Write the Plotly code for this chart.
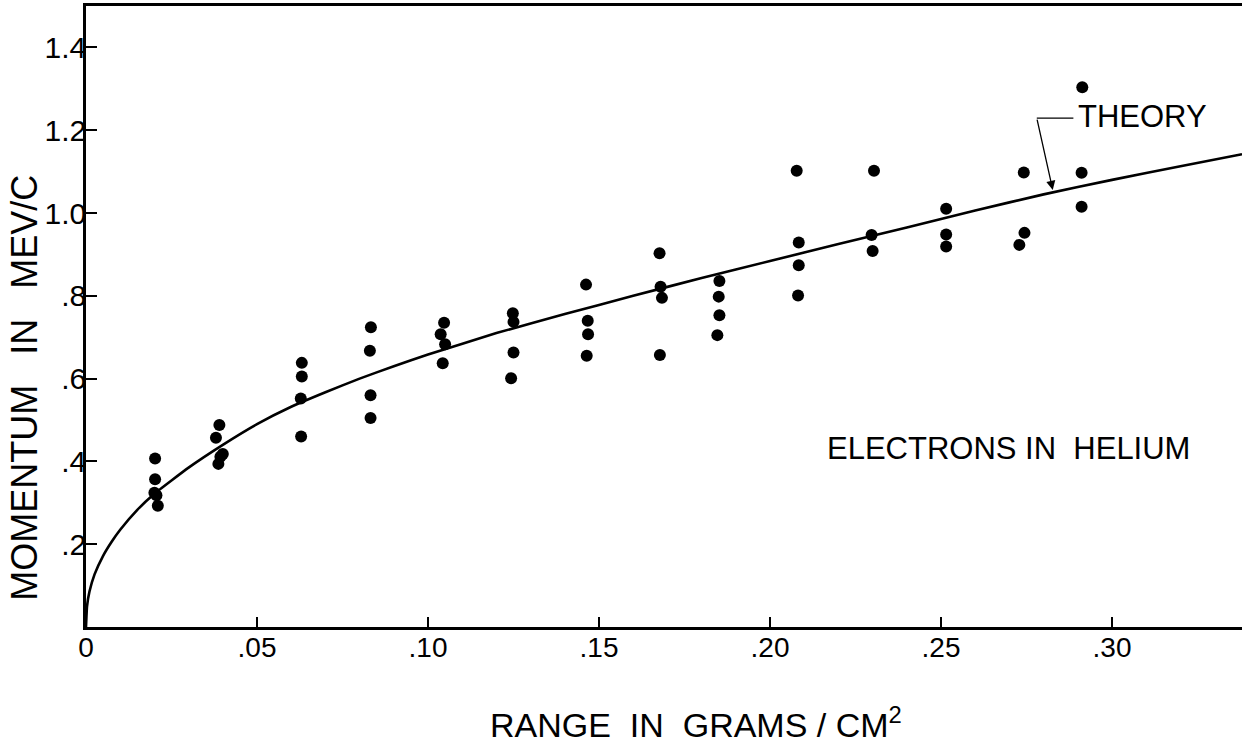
import plotly.graph_objects as go

# Measured points (range g/cm^2, momentum MeV/c)
range_pts = [0.0202, 0.0202, 0.0200, 0.0206, 0.0210,
             0.0390, 0.0380, 0.0400, 0.0393, 0.0387,
             0.0631, 0.0631, 0.0628, 0.0629,
             0.0833, 0.0830, 0.0832, 0.0832,
             0.1047, 0.1037, 0.1050, 0.1043,
             0.1248, 0.1250, 0.1250, 0.1243,
             0.1462, 0.1467, 0.1468, 0.1464,
             0.1677, 0.1680, 0.1684, 0.1678,
             0.1852, 0.1850, 0.1852, 0.1846,
             0.2078, 0.2084, 0.2084, 0.2082,
             0.2304, 0.2297, 0.2300,
             0.2515, 0.2515, 0.2515,
             0.2742, 0.2744, 0.2729,
             0.2913, 0.2911, 0.2911]
momentum_pts = [0.407, 0.357, 0.324, 0.318, 0.293,
                0.488, 0.457, 0.418, 0.411, 0.394,
                0.638, 0.605, 0.552, 0.460,
                0.724, 0.667, 0.560, 0.505,
                0.735, 0.707, 0.683, 0.637,
                0.758, 0.737, 0.663, 0.601,
                0.827, 0.740, 0.707, 0.655,
                0.903, 0.822, 0.795, 0.657,
                0.836, 0.798, 0.753, 0.705,
                1.102, 0.929, 0.874, 0.801,
                1.102, 0.947, 0.908,
                1.010, 0.948, 0.919,
                1.098, 0.952, 0.923,
                1.304, 1.097, 1.015]

# Theory curve
theory_range = [0.0, 0.0003, 0.001, 0.0025, 0.005, 0.0075, 0.01, 0.015, 0.02, 0.03,
                0.04, 0.05, 0.06, 0.07, 0.08, 0.09, 0.10, 0.12, 0.14, 0.16,
                0.18, 0.20, 0.22, 0.24, 0.26, 0.28, 0.30, 0.32, 0.338]
theory_mom = [0.0, 0.05, 0.085, 0.127, 0.172, 0.206, 0.235, 0.283, 0.322, 0.385,
              0.440, 0.490, 0.532, 0.567, 0.600, 0.630, 0.658, 0.710, 0.756, 0.800,
              0.843, 0.884, 0.925, 0.965, 1.006, 1.045, 1.080, 1.113, 1.142]

x_tickvals = [0, 0.05, 0.10, 0.15, 0.20, 0.25, 0.30]
x_ticktext = ["0", ".05", ".10", ".15", ".20", ".25", ".30"]
y_tickvals = [0.2, 0.4, 0.6, 0.8, 1.0, 1.2, 1.4]
y_ticktext = [".2", ".4", ".6", ".8", "1.0", "1.2", "1.4"]

FONT = "Liberation Sans, Arial, sans-serif"

fig = go.Figure()
fig.add_trace(go.Scatter(x=theory_range, y=theory_mom, mode="lines",
                         line=dict(color="black", width=2.6, shape="spline", smoothing=0.4),
                         hoverinfo="skip", showlegend=False))
fig.add_trace(go.Scatter(x=range_pts, y=momentum_pts, mode="markers",
                         marker=dict(color="black", size=12),
                         showlegend=False))

fig.update_layout(
    width=1242, height=746,
    margin=dict(l=86, r=0, t=6, b=119),
    paper_bgcolor="white", plot_bgcolor="white",
    font=dict(family=FONT, color="black"),
    xaxis=dict(range=[0, 0.338], tickvals=x_tickvals, ticktext=x_ticktext,
               ticks="inside", ticklen=10, tickwidth=1.5, tickcolor="black",
               showline=True, linecolor="black", linewidth=2.5, mirror=True,
               showgrid=False, zeroline=False, ticklabelstandoff=-6,
               tickfont=dict(size=28, family=FONT)),
    yaxis=dict(range=[0, 1.5], tickvals=y_tickvals, ticktext=y_ticktext,
               ticks="inside", ticklen=11, tickwidth=1.5, tickcolor="black",
               showline=True, linecolor="black", linewidth=2.5, mirror=False,
               showgrid=False, zeroline=False, ticklabelstandoff=-9,
               tickfont=dict(size=30, family=FONT)),
)

# Axis titles
fig.add_annotation(text="RANGE&nbsp;&nbsp;IN&nbsp;&nbsp;GRAMS&nbsp;/&nbsp;CM<sup>2</sup>",
                   xref="paper", yref="paper", x=0.528, y=-0.153,
                   xanchor="center", yanchor="middle", showarrow=False,
                   font=dict(size=34, family=FONT))
fig.add_annotation(text="MOMENTUM&nbsp;&nbsp;&nbsp;IN&nbsp;&nbsp;&nbsp;MEV/C",
                   xref="paper", yref="paper", x=-0.053, y=0.385,
                   xanchor="center", yanchor="middle", textangle=-90, showarrow=False,
                   font=dict(size=36, family=FONT))

# Labels inside plot
fig.add_annotation(text="ELECTRONS IN&nbsp;&nbsp;HELIUM", x=0.2161, y=0.431,
                   xanchor="left", yanchor="middle", showarrow=False,
                   font=dict(size=31, family=FONT))
fig.add_annotation(text="THEORY", x=0.2895, y=1.233,
                   xanchor="left", yanchor="middle", showarrow=False,
                   font=dict(size=31, family=FONT))
fig.add_shape(type="line", x0=0.278, y0=1.229, x1=0.2887, y1=1.229,
              line=dict(color="black", width=1.3))
fig.add_annotation(text="", x=0.2828, y=1.051, ax=0.278, ay=1.229,
                   xref="x", yref="y", axref="x", ayref="y",
                   showarrow=True, arrowhead=2, arrowsize=1.4, arrowwidth=1.3,
                   arrowcolor="black", standoff=2)

fig.write_html("out.html")
